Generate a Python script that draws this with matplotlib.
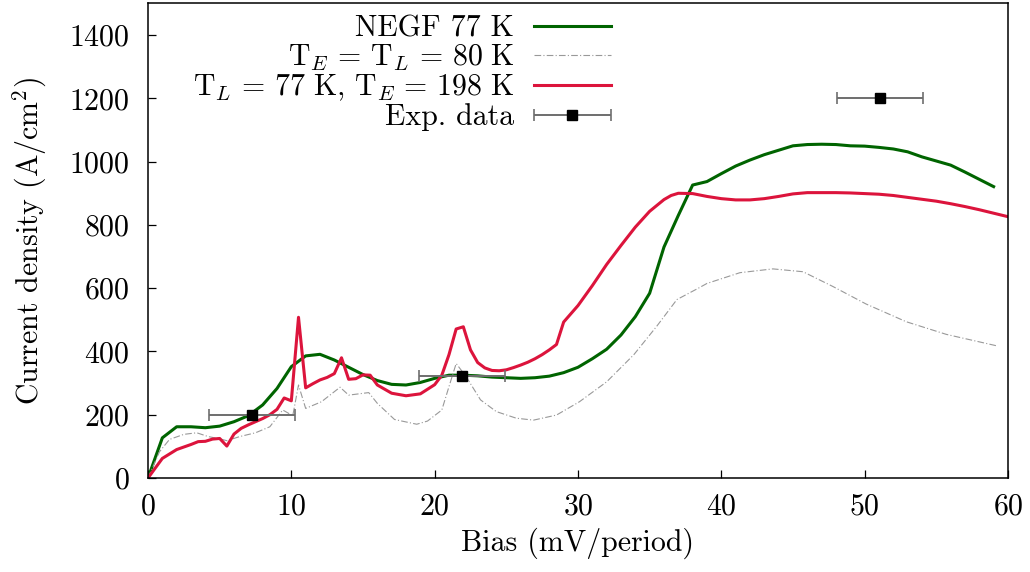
import matplotlib
matplotlib.use("Agg")
import matplotlib.pyplot as plt
from matplotlib.legend_handler import HandlerErrorbar
from matplotlib.container import ErrorbarContainer

# NEGF 77 K
negf_x = [0, 1, 2, 3, 4, 5, 6, 7, 8, 9, 10, 11, 12, 13, 14, 15, 16, 17, 18, 19,
          20, 21, 22, 23, 24, 25, 26, 27, 28, 29, 30, 31, 32, 33, 34, 35, 36, 37,
          38, 39, 40, 41, 42, 43, 44, 45, 46, 47, 48, 49, 50, 51, 52, 53, 54, 55,
          56, 57, 58, 59]
negf_y = [0, 127, 162, 162, 159, 164, 178, 197, 231, 283, 352, 386, 391, 373, 350,
          327, 308, 296, 294, 302, 315, 325, 325, 323, 319, 317, 315, 317, 322, 333,
          350, 377, 407, 452, 510, 584, 730, 830, 926, 937, 962, 986, 1005, 1022,
          1036, 1050, 1054, 1055, 1054, 1050, 1049, 1045, 1040, 1031, 1015, 1002,
          989, 967, 944, 921]

# T_E = T_L = 80 K
eq_x = [0, 0.8, 1.5, 2.5, 3.4, 4.2, 5, 5.5, 6.4, 7.5, 8.5, 9.4, 10.1, 10.5, 11,
        12.1, 13.4, 14, 15.4, 16, 17.2, 18.75, 19.5, 20.5, 21, 21.5, 22.2, 23.2,
        24.3, 25.7, 26.9, 28.5, 30.1, 32, 33.9, 35.5, 36.9, 38.4, 39, 41.3, 43.6,
        45.7, 47.8, 50.1, 52.9, 55.7, 59.2]
eq_y = [0, 83, 122, 138, 143, 131, 124, 118, 131, 143, 162, 215, 197, 294, 220,
        241, 287, 262, 270, 236, 185, 170, 180, 215, 289, 362, 320, 247, 210, 189,
        183, 199, 241, 304, 390, 480, 564, 600, 615, 649, 661, 652, 605, 550, 494,
        454, 418]

# T_L = 77 K, T_E = 198 K
hot_x = [0, 1, 2, 3, 3.5, 4, 4.5, 5, 5.5, 6, 6.5, 7, 7.5, 8, 8.5, 9, 9.5, 10,
         10.5, 11, 11.5, 12, 12.5, 13, 13.5, 14, 14.5, 15, 15.5, 16, 17, 18, 19,
         20, 20.5, 21, 21.5, 22, 22.5, 23, 23.5, 24, 24.5, 25, 25.5, 26, 26.5, 27,
         27.5, 28, 28.5, 29, 30, 31, 32, 33, 34, 35, 36, 36.5, 37, 38, 39, 40, 41,
         42, 43, 44, 45, 46, 47, 48, 49, 50, 51, 52, 53, 54, 55, 56, 57, 58, 59, 60]
hot_y = [0, 62, 90, 106, 115, 116, 123, 125, 101, 139, 157, 168, 178, 188, 200,
         217, 253, 244, 508, 285, 298, 310, 318, 330, 380, 312, 314, 326, 325, 294,
         268, 260, 266, 295, 325, 390, 471, 478, 405, 365, 348, 340, 339, 342, 349,
         357, 366, 377, 390, 405, 422, 493, 545, 608, 675, 735, 793, 843, 880, 893,
         900, 899, 890, 883, 879, 879, 883, 890, 898, 902, 902, 902, 901, 899, 897,
         893, 887, 881, 875, 867, 858, 848, 837, 826]

# experimental points
exp_x = [7.25, 21.9, 51.1]
exp_y = [199, 322, 1200]
exp_xerr = [3.0, 3.0, 3.0]

plt.rcParams["font.family"] = ["cmr10", "DejaVu Serif"]
plt.rcParams["mathtext.fontset"] = "cm"
plt.rcParams["axes.formatter.use_mathtext"] = True
plt.rcParams["font.size"] = 21.5

fig = plt.figure(figsize=(10.3, 5.72), dpi=100)
ax = fig.add_axes([0.1437, 0.1643, 0.8349, 0.8297])

ax.plot(negf_x, negf_y, color="#006400", lw=2.2, label="NEGF 77 K")
ax.plot(eq_x, eq_y, color="#999999", lw=0.8, ls=(0, (6, 2, 1, 2)),
        label=r"$\mathrm{T}_E\,=\,\mathrm{T}_L\,=\,80\ \mathrm{K}$")
ax.plot(hot_x, hot_y, color="#dc143c", lw=2.2,
        label=r"$\mathrm{T}_L\,=\,77\ \mathrm{K},\,\mathrm{T}_E\,=\,198\ \mathrm{K}$")
ax.errorbar(exp_x, exp_y, xerr=exp_xerr, fmt="s", color="black", ms=7,
            ecolor="#6e6e6e", elinewidth=1.4, capsize=4, capthick=1.2,
            label="Exp. data")

ax.set_xlim(0, 60)
ax.set_ylim(0, 1500)
ax.set_xticks(range(0, 61, 10))
ax.set_yticks(range(0, 1401, 200))
ax.tick_params(direction="in", length=6, width=0.9)
ax.tick_params(axis="y", pad=13)
ax.tick_params(axis="x", pad=11)
for s in ax.spines.values():
    s.set_linewidth(1.1)

ax.set_xlabel("Bias (mV/period)", labelpad=5)
ax.set_ylabel(r"Current density (A/cm$^2$)", labelpad=15)

ax.legend(loc="upper right", bbox_to_anchor=(0.563, 1.019), frameon=False,
          markerfirst=False, handlelength=2.6, handletextpad=0.65,
          labelspacing=0.0, borderpad=0.2,
          handler_map={ErrorbarContainer: HandlerErrorbar(xerr_size=1.3)})

fig.savefig("out.png", dpi=100)
